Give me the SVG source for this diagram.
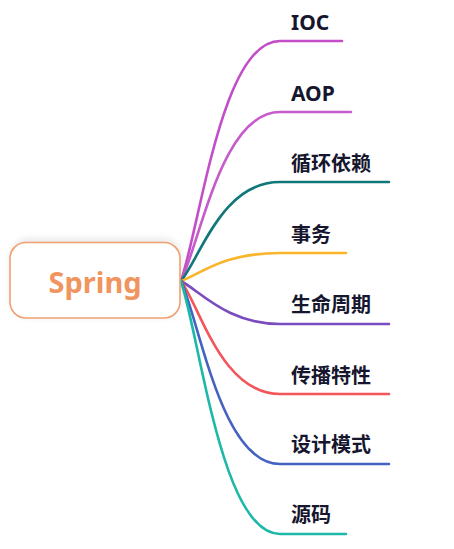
<svg xmlns="http://www.w3.org/2000/svg" width="454" height="549" viewBox="0 0 454 549">
<defs>
<style>
.lbl{font-family:"Noto Sans","Noto Sans CJK SC",sans-serif;font-weight:bold;font-size:20px;fill:#16162e}
.lat{font-size:21px}
.br{fill:none;stroke-width:2.6;stroke-linecap:round}
</style>
<filter id="sh" x="-20%" y="-30%" width="140%" height="160%">
<feGaussianBlur stdDeviation="4"/>
</filter>
</defs>
<rect width="454" height="549" fill="#ffffff"/>
<g id="connectors">
<path class="br" stroke="#C24FC8" d="M181,281 C201,221 222,41 280,41 H342"/>
<path class="br" stroke="#C65BCC" d="M181,281 C201,239 222,112 280,112 H351"/>
<path class="br" stroke="#10777A" d="M181,281 C201,256 222,182 280,182 H389"/>
<path class="br" stroke="#FAB52A" d="M181,281 C201,274 222,253 280,253 H346"/>
<path class="br" stroke="#7A4CC0" d="M181,281 C201,292 228,324 280,324 H389"/>
<path class="br" stroke="#F2555A" d="M181,281 C201,309 222,394 280,394 H389"/>
<path class="br" stroke="#4462C0" d="M181,281 C201,327 222,464 280,464 H389"/>
<path class="br" stroke="#1DB8A8" d="M181,281 C201,344 222,534 280,534 H346"/>
</g>
<g id="root">
<rect x="12" y="240" width="168" height="76" rx="16" fill="#000" opacity="0.12" filter="url(#sh)"/>
<rect x="10" y="242.5" width="170" height="75.5" rx="16" fill="#ffffff" stroke="#F0A070" stroke-width="1.6"/>
<text x="95" y="293" text-anchor="middle" font-family="Noto Sans, Noto Sans CJK SC, sans-serif" font-weight="bold" font-size="29" fill="#F0955F">Spring</text>
</g>
<g id="n-ioc"><text class="lbl lat" x="291" y="30">IOC</text></g>
<g id="n-aop"><text class="lbl lat" x="291" y="101">AOP</text></g>
<g id="n-xhyl"><text class="lbl" x="291" y="171">循环依赖</text></g>
<g id="n-sw"><text class="lbl" x="291" y="242">事务</text></g>
<g id="n-smzq"><text class="lbl" x="291" y="312">生命周期</text></g>
<g id="n-cbtx"><text class="lbl" x="291" y="383">传播特性</text></g>
<g id="n-sjms"><text class="lbl" x="291" y="452">设计模式</text></g>
<g id="n-ym"><text class="lbl" x="291" y="522">源码</text></g>
</svg>
